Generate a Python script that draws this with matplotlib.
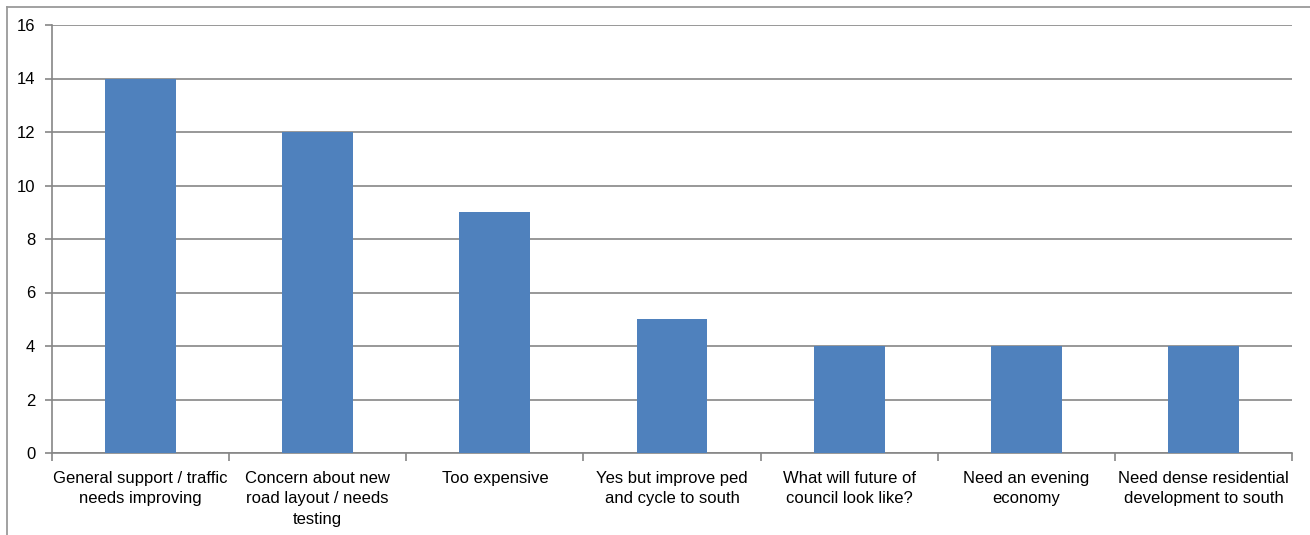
import matplotlib
matplotlib.use("Agg")
import matplotlib.pyplot as plt
from matplotlib.lines import Line2D

categories = [
    "General support / traffic\nneeds improving",
    "Concern about new\nroad layout / needs\ntesting",
    "Too expensive",
    "Yes but improve ped\nand cycle to south",
    "What will future of\ncouncil look like?",
    "Need an evening\neconomy",
    "Need dense residential\ndevelopment to south",
]
counts = [14, 12, 9, 5, 4, 4, 4]
y_ticks = [0, 2, 4, 6, 8, 10, 12, 14, 16]

W, H = 1310, 535
fig = plt.figure(figsize=(W / 100, H / 100), dpi=100)
plt.rcParams['font.family'] = ['Liberation Sans', 'DejaVu Sans']

left, right, top, bottom = 52, 1292, 25, 453
ax = fig.add_axes([left / W, 1 - bottom / H, (right - left) / W, (bottom - top) / H])

grid_color = '#868686'
x = list(range(len(categories)))
ax.bar(x, counts, width=0.4, color='#4F81BD', zorder=3)
ax.set_xlim(-0.5, len(categories) - 0.5)
ax.set_ylim(0, 16)
ax.set_yticks(y_ticks)
ax.yaxis.grid(True, color=grid_color, linewidth=1.2, zorder=0)

for s in ['top', 'right']:
    ax.spines[s].set_visible(False)
for s in ['left', 'bottom']:
    ax.spines[s].set_color(grid_color)
    ax.spines[s].set_linewidth(1.2)

ax.tick_params(axis='y', length=5, color=grid_color, width=1.2, labelsize=12, pad=7)
ax.set_xticks([i - 0.5 for i in range(len(categories) + 1)])
ax.set_xticklabels([])
ax.tick_params(axis='x', length=6, color=grid_color, width=1.2)
ax.set_xticks(x, minor=True)
ax.set_xticklabels(categories, minor=True, fontsize=12, linespacing=1.45)
ax.tick_params(axis='x', which='minor', length=0, pad=13)
for lbl in ax.get_xticklabels(minor=True):
    lbl.set_verticalalignment('top')

# chart area border
fig.add_artist(Line2D([7 / W, 7 / W], [0, 1 - 7 / H], color='#9a9a9a', linewidth=1.3, transform=fig.transFigure))
fig.add_artist(Line2D([7 / W, 1], [1 - 7 / H, 1 - 7 / H], color='#9a9a9a', linewidth=1.3, transform=fig.transFigure))

fig.savefig("out.png", dpi=100)
